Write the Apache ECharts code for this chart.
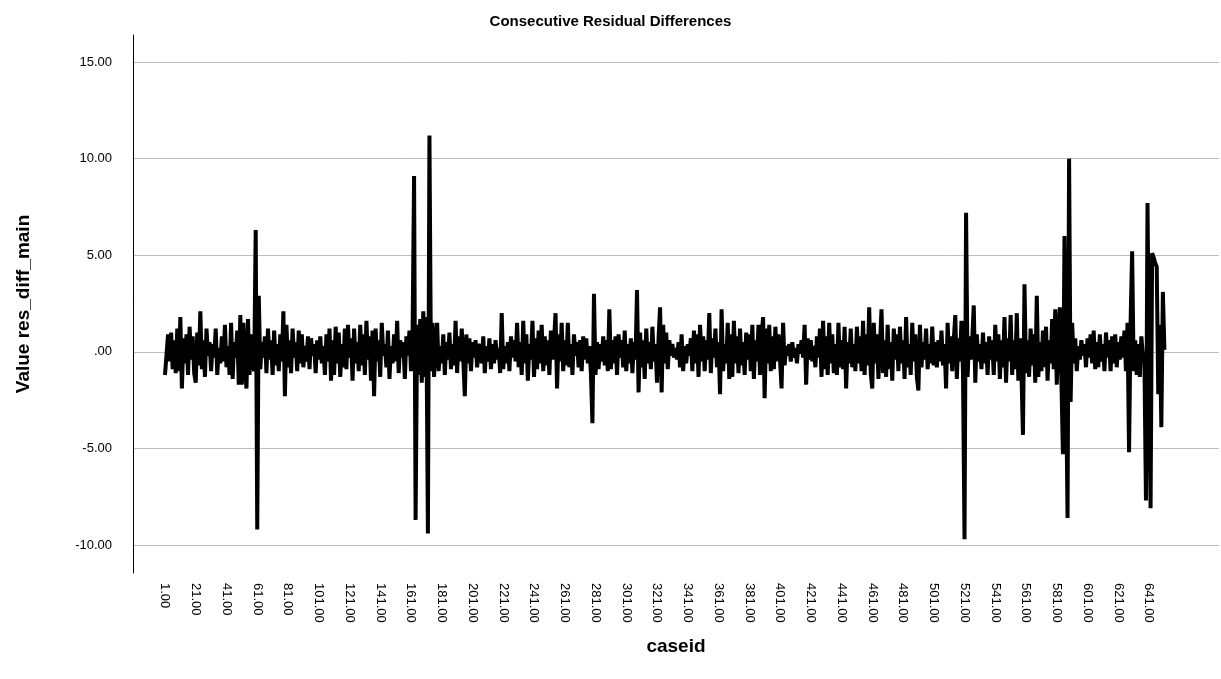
<!DOCTYPE html>
<html>
<head>
<meta charset="utf-8">
<script src="https://cdn.jsdelivr.net/npm/echarts@6/dist/echarts.min.js"></script>
<style>
  html, body { margin: 0; padding: 0; background: #fff; }
  #chart { width: 1221px; height: 679px; }
</style>
</head>
<body>
<div id="chart"></div>
<script>
// residual differences, caseid 1..651
const resDiff = [
  -1.2, -1.3, 0.9, -0.5, 1.0, -0.9, 0.6, -1.1, 1.2, -1.0,
  1.8, -1.9, 0.7, -0.6, 0.9, -1.2, 1.3, -0.4, 0.8, -1.1,
  -1.6, 1.0, -0.7, 2.1, -0.9, 0.6, -1.3, 1.2, -0.2, 0.5,
  -1.0, 0.4, -0.3, 1.2, -1.2, 0.2, -0.6, 0.8, -0.5, 1.4,
  -0.8, 0.3, -1.2, 1.5, -1.4, 0.5, -0.3, 1.1, -1.7, 1.9,
  -1.7, 1.5, -0.6, -1.9, 1.7, -1.2, 0.9, -0.5, -1.0, 6.3,
  -9.2, 2.9, -0.9, 0.5, -0.3, 0.8, -1.1, 1.2, -0.4, 0.6,
  -1.2, 1.1, -0.7, 0.4, -1.0, 0.9, -0.5, 2.1, -2.3, 1.4,
  -0.8, 0.6, -1.1, 1.2, -0.3, 0.5, -1.0, 1.1, -0.6, 0.9,
  -0.8, 0.3, -0.5, 0.8, -0.9, 0.7, -0.2, 0.4, -1.1, 0.6,
  -0.4, 0.8, -0.6, 0.3, -1.2, 0.9, -0.5, 1.2, -1.5, 0.6,
  -1.2, 1.3, -0.6, 1.0, -1.3, 0.4, -0.8, 1.2, -0.9, 1.4,
  -0.3, 0.7, -1.5, 1.2, -0.6, 0.5, -1.0, 1.4, -0.7, 0.9,
  -1.2, 1.6, -0.4, 0.8, -1.5, 1.1, -2.3, 1.2, -0.5, 0.6,
  -1.3, 1.5, -0.2, 0.4, -0.8, 1.1, -1.4, 0.3, -0.6, 0.9,
  -0.5, 1.6, -1.1, 0.6, -0.3, 0.5, -1.4, 0.8, -0.2, 1.1,
  -1.0, 0.7, 9.1, -8.7, 1.4, -1.2, 1.7, -1.6, 2.1, -1.3,
  1.8, -9.4, 11.2, -1.0, 1.5, -1.3, 0.6, 1.5, -1.0, 0.3,
  -0.6, 0.9, -1.2, 0.5, -0.4, 1.0, -0.9, 0.4, -0.7, 1.6,
  -1.1, 0.8, -0.5, 1.2, -0.4, -2.3, 0.9, -0.6, 0.7, -1.0,
  0.5, -0.3, 0.6, -0.8, 0.2, 0.4, -0.6, 0.8, -1.1, 0.3,
  -0.5, 0.7, -0.9, 0.4, -0.6, 0.6, -0.4, 0.2, -1.1, 2.0,
  -0.9, 0.3, -0.6, 0.5, -1.0, 0.8, -0.3, 0.6, -0.5, 1.5,
  -0.8, 0.5, -1.2, 1.6, -0.6, 0.9, -1.5, 0.4, -0.4, 1.6,
  -1.3, 0.7, -0.9, 1.1, -0.6, 1.4, -1.0, 0.8, -0.7, 0.6,
  -1.2, 1.1, -0.4, 0.5, 2.0, -1.9, 0.9, -0.5, 1.5, -1.0,
  0.6, -0.7, 1.5, -0.8, 0.4, -1.2, 0.9, -0.2, 0.5, -0.8,
  0.6, -1.0, 0.8, -0.4, 0.7, -0.6, 0.3, -1.1, -3.7, 3.0,
  -1.2, 0.5, -0.9, 0.4, -0.5, 0.8, -0.7, 0.6, -1.0, 2.2,
  -0.9, 0.6, -0.6, 0.8, -1.2, 0.9, -0.3, 0.6, -0.8, 1.1,
  -1.0, 0.4, -0.6, 0.7, -1.1, 0.5, -0.4, 3.2, -2.1, 1.0,
  -0.8, 0.6, -1.4, 1.2, -0.6, 0.5, -0.9, 1.3, -0.5, 0.4,
  -1.6, 0.7, 2.3, -2.1, 1.4, -0.6, 1.0, -0.9, 0.6, -0.2,
  0.4, -0.3, 0.2, -0.4, 0.5, -0.8, 0.9, -1.0, 0.3, -0.6,
  0.4, -0.2, 0.7, -1.0, 1.1, -0.6, 0.9, -1.3, 1.4, -0.5,
  0.8, -1.0, 0.6, -0.4, 2.0, -1.1, 0.7, -0.3, 1.2, -0.8,
  0.5, -2.2, 2.2, -1.0, 0.4, -0.6, 1.5, -1.4, 0.9, -1.3,
  1.6, -0.6, 0.8, -1.1, 1.2, -0.7, 0.5, -1.2, 1.0, -0.4,
  0.9, -1.0, 1.4, -1.4, 0.6, -0.5, 1.4, -1.2, 0.8, 1.8,
  -2.4, 1.2, -0.6, 1.4, -1.0, 0.8, -0.9, 1.3, -0.5, 0.9,
  -0.4, -1.9, 1.5, -0.7, 0.3, -0.2, 0.4, -0.5, 0.5, -0.3,
  0.2, -0.6, 0.4, -0.1, 0.6, -0.3, 1.4, -1.7, 0.7, -0.4,
  0.6, -0.5, 0.3, -0.8, 0.8, -0.3, 1.2, -1.3, 1.6, -0.9,
  0.8, -1.2, 1.5, -0.6, 0.9, -1.1, 0.4, -1.2, 1.5, -0.8,
  0.6, -0.9, 1.3, -1.9, 0.5, -0.6, 1.2, -0.8, 0.4, -1.0,
  1.3, -0.6, 0.8, -1.0, 1.6, -1.2, 0.9, -0.7, 2.3, -1.1,
  -1.9, 1.5, -0.6, 0.9, -1.4, 0.4, 2.2, -1.1, 0.6, -1.3,
  1.4, -0.9, 0.5, -1.5, 1.2, -0.4, 0.9, -1.0, 1.3, -0.6,
  0.6, -1.4, 1.8, -0.8, 0.4, -1.2, 1.5, -0.5, 0.9, -1.3,
  -2.0, 1.4, -0.8, 0.5, -0.4, 1.2, -0.9, 0.4, -0.6, 1.3,
  -0.7, 0.5, -0.8, 0.6, -0.5, 1.1, -0.7, 0.4, -1.9, 1.5,
  -0.6, 0.8, -1.0, 0.6, 1.9, -1.4, 0.7, -0.5, 1.6, -1.1,
  -9.7, 7.2, -1.3, 0.8, -0.4, 0.6, 2.4, -1.6, 0.9, -0.5,
  0.4, -0.9, 1.0, -0.6, 0.5, -1.2, 0.8, -0.4, 0.6, -1.2,
  1.4, -0.5, 0.9, -1.4, 0.6, -0.8, 1.8, -1.6, 0.7, -0.5,
  1.9, -1.2, 0.6, -0.9, 2.0, -1.5, 0.7, -1.0, -4.3, 3.5,
  -1.1, 0.6, -1.3, 1.2, -0.7, 0.9, -1.6, 2.9, -1.3, 0.5,
  -1.0, 1.1, -0.8, 1.3, -1.5, 0.6, -0.6, 1.7, -0.9, 2.2,
  -1.7, 0.8, 2.3, -1.5, -5.3, 6.0, -1.0, -8.6, 10.0, -2.6,
  1.5, -0.6, 0.7, -1.0, 0.3, -0.4, 0.6, -0.2, 0.4, -0.8,
  0.7, -0.3, 0.9, -0.6, 1.1, -0.9, 0.5, -0.8, 0.9, -0.5,
  0.4, -1.0, 1.0, -0.3, 0.6, -1.0, 0.8, -0.6, 0.9, -0.8,
  0.5, -0.4, 0.8, -0.3, 1.1, -1.0, 1.5, -5.2, 1.5, 5.2,
  -1.0, 0.6, -1.2, 0.4, -1.3, 0.8, -0.2, -0.5, -7.7, 7.7,
  -1.0, -8.1, 5.1, 4.9, 4.6, 4.4, -2.2, 1.4, -3.9, 3.1,
  0.1
];
const xTicks = [1, 21, 41, 61, 81, 101, 121, 141, 161, 181, 201, 221, 241, 261, 281, 301, 321,
  341, 361, 381, 401, 421, 441, 461, 481, 501, 521, 541, 561, 581, 601, 621, 641];
const yTicks = [-10, -5, 0, 5, 10, 15];

const fontFamily = '"Liberation Sans", Arial, sans-serif';

function fmt(v) {
  const s = Number(v).toFixed(2);
  if (s === '0.00') return '.00';
  return s;
}

const chart = echarts.init(document.getElementById('chart'));
chart.setOption({
  animation: false,
  backgroundColor: '#fff',
  title: {
    text: 'Consecutive Residual Differences',
    left: 'center',
    top: 9,
    textStyle: { fontFamily, fontSize: 15, fontWeight: 'bold', color: '#000' }
  },
  grid: { left: 133, top: 35, width: 1086, height: 538 },
  xAxis: {
    type: 'value',
    min: -19.8,
    max: 686.5,
    name: 'caseid',
    nameLocation: 'middle',
    nameGap: 64,
    nameTextStyle: { fontFamily, fontSize: 19, fontWeight: 'bold', color: '#000' },
    axisLine: { show: false },
    axisTick: { show: false, customValues: xTicks },
    splitLine: { show: false },
    axisLabel: {
      customValues: xTicks,
      rotate: -90,
      margin: 10,
      color: '#000',
      fontFamily,
      fontSize: 13,
      formatter: fmt
    }
  },
  yAxis: {
    type: 'value',
    min: -11.45,
    max: 16.4,
    name: 'Value res_diff_main',
    nameLocation: 'middle',
    nameGap: 100,
    nameTextStyle: { fontFamily, fontSize: 19, fontWeight: 'bold', color: '#000' },
    axisLine: { show: true, onZero: false, lineStyle: { color: '#000', width: 1 } },
    axisTick: { show: false, customValues: yTicks },
    splitLine: { show: true, lineStyle: { color: '#bdbdbd', width: 1 } },
    axisLabel: {
      customValues: yTicks,
      margin: 21,
      color: '#000',
      fontFamily,
      fontSize: 13,
      formatter: fmt
    }
  },
  series: [
    {
      type: 'line',
      symbol: 'none',
      lineStyle: { color: '#000', width: 4, join: 'bevel' },
      data: resDiff.map((v, i) => [i + 1, v])
    }
  ]
});
</script>
</body>
</html>
